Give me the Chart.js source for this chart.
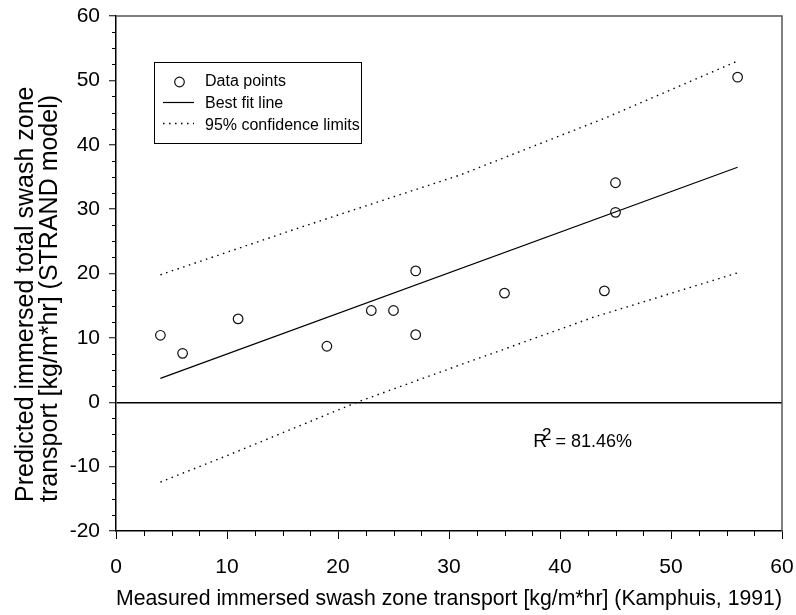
<!DOCTYPE html>
<html>
<head>
<meta charset="utf-8">
<script src="https://cdn.jsdelivr.net/npm/chart.js@4.4.1/dist/chart.umd.min.js"></script>
<style>
  html, body { margin: 0; padding: 0; background: #fff; }
  #chartContainer { width: 796px; height: 615px; }
</style>
</head>
<body>
<div id="chartContainer"><canvas id="chartSwash" width="796" height="615"></canvas></div>
<script>
/* measured vs predicted swash transport */
const measured = [4, 6, 11, 19, 23, 25, 27, 27, 35, 44, 45, 45, 56];
const predicted = [10.4, 7.6, 12.95, 8.7, 14.25, 14.25, 20.4, 10.5, 16.95, 17.3, 34.1, 29.5, 50.5];

const fitX = [4, 56];
const fitY = [3.7, 36.5];

const upperX = [4, 16.5, 31, 44, 56];
const upperY = [19.8, 27.1, 35.3, 44.1, 53.0];
const lowerX = [4, 10, 21.7, 31, 43, 56];
const lowerY = [-12.4, -8.3, 0, 5.8, 13.2, 20.1];

const xTicks = [0, 10, 20, 30, 40, 50, 60];
const yTicks = [-20, -10, 0, 10, 20, 30, 40, 50, 60];

const legendLabels = ['Data points', 'Best fit line', '95% confidence limits'];
const r2Text = '81.46%';

const FONT = '"Liberation Sans", Arial, sans-serif';
Chart.defaults.font.family = FONT;
Chart.defaults.color = '#000';

function pairs(xs, ys) {
  return xs.map(function (x, i) { return { x: x, y: ys[i] }; });
}
function isMajor(v, list) {
  return list.indexOf(v) !== -1;
}

// minor ticks, box edges, legend, R2 and the y title
const extras = {
  id: 'extras',
  afterDraw: function (chart) {
    const ctx = chart.ctx;
    const a = chart.chartArea;
    const xs = chart.scales.x;
    const ys = chart.scales.y;
    ctx.save();
    ctx.strokeStyle = '#000';
    ctx.lineWidth = 1;
    xs.ticks.forEach(function (t) {
      if (isMajor(t.value, xTicks)) return;
      const px = Math.round(xs.getPixelForValue(t.value)) + 0.5;
      ctx.beginPath();
      ctx.moveTo(px, a.bottom);
      ctx.lineTo(px, a.bottom + 5);
      ctx.stroke();
    });
    ys.ticks.forEach(function (t) {
      if (isMajor(t.value, yTicks)) return;
      const py = Math.round(ys.getPixelForValue(t.value)) + 0.5;
      ctx.beginPath();
      ctx.moveTo(a.left - 4, py);
      ctx.lineTo(a.left, py);
      ctx.stroke();
    });
    // top and right frame
    ctx.strokeStyle = '#555';
    ctx.lineWidth = 1.5;
    ctx.beginPath();
    ctx.moveTo(a.left, a.top);
    ctx.lineTo(a.right, a.top);
    ctx.lineTo(a.right, a.bottom);
    ctx.stroke();

    // legend box
    const ds = chart.data.datasets;
    ctx.strokeStyle = '#000';
    ctx.lineWidth = 1;
    ctx.strokeRect(154.5, 62.5, 207, 81);
    ctx.font = '16px ' + FONT;
    ctx.fillStyle = '#000';
    ctx.textBaseline = 'middle';
    ctx.textAlign = 'left';
    const rows = [82, 104, 126];
    legendLabels.forEach(function (lab, i) {
      ctx.fillText(lab, 205, rows[i]);
    });
    ctx.beginPath();
    ctx.lineWidth = ds[0].borderWidth;
    ctx.strokeStyle = ds[0].borderColor;
    ctx.arc(179.5, rows[0], ds[0].pointRadius, 0, Math.PI * 2);
    ctx.stroke();
    ctx.lineWidth = ds[1].borderWidth;
    ctx.strokeStyle = ds[1].borderColor;
    ctx.beginPath();
    ctx.moveTo(163, rows[1] - 1.5);
    ctx.lineTo(194, rows[1] - 1.5);
    ctx.stroke();
    ctx.setLineDash(ds[2].borderDash);
    ctx.lineWidth = ds[2].borderWidth;
    ctx.beginPath();
    ctx.moveTo(163, rows[2] - 2.5);
    ctx.lineTo(194, rows[2] - 2.5);
    ctx.stroke();
    ctx.setLineDash([]);

    // R^2 note
    const rx = xs.getPixelForValue(37.6);
    const ry = ys.getPixelForValue(-6.95);
    ctx.textBaseline = 'alphabetic';
    ctx.font = '19px ' + FONT;
    ctx.fillText('R', rx, ry);
    let w = ctx.measureText('R').width;
    ctx.font = '17px ' + FONT;
    ctx.fillText('2', rx + w - 5, ry - 6.5);
    w += ctx.measureText('2').width - 2;
    ctx.font = '18px ' + FONT;
    ctx.fillText('= ' + r2Text, rx + w + 1, ry);

    // y title, two lines starting at the same end
    ctx.font = '25px ' + FONT;
    ctx.translate(0, 502);
    ctx.rotate(-Math.PI / 2);
    ctx.fillText('Predicted immersed total swash zone', 0, 33);
    ctx.fillText('transport [kg/m*hr] (STRAND model)', 0, 57);
    ctx.restore();
  },
};

const chart_ctx = document.getElementById('chartSwash');
const chart = new Chart(chart_ctx, {
  type: 'scatter',
  data: {
    datasets: [
      {
        label: legendLabels[0],
        data: pairs(measured, predicted),
        showLine: false,
        pointRadius: 4.8,
        pointHoverRadius: 4.8,
        borderWidth: 1.2,
        borderColor: '#111',
        backgroundColor: 'rgba(0,0,0,0)',
      },
      {
        label: legendLabels[1],
        data: pairs(fitX, fitY),
        showLine: true,
        pointRadius: 0,
        borderWidth: 1.2,
        borderColor: '#000',
      },
      {
        label: legendLabels[2],
        data: pairs(upperX, upperY),
        showLine: true,
        pointRadius: 0,
        borderWidth: 1.4,
        borderColor: '#000',
        borderDash: [1.5, 4.5],
        tension: 0,
      },
      {
        label: legendLabels[2],
        data: pairs(lowerX, lowerY),
        showLine: true,
        pointRadius: 0,
        borderWidth: 1.4,
        borderColor: '#000',
        borderDash: [1.5, 4.5],
        tension: 0,
      },
    ],
  },
  options: {
    responsive: false,
    animation: false,
    devicePixelRatio: 1,
    layout: {
      padding: { top: 16, right: 14, left: 0, bottom: 0 },
    },
    plugins: {
      legend: { display: false },
      tooltip: { enabled: false },
    },
    events: [],
    scales: {
      x: {
        type: 'linear',
        min: 0,
        max: 60,
        afterFit: function (s) {
          s.height = 84;
          s.paddingLeft = 0;
          s.paddingRight = 0;
        },
        ticks: {
          stepSize: 2.5,
          autoSkip: false,
          maxRotation: 0,
          padding: 16,
          font: { size: 21 },
          color: '#000',
          callback: function (v) { return isMajor(v, xTicks) ? String(v) : ''; },
        },
        grid: {
          drawOnChartArea: false,
          drawTicks: true,
          tickLength: 8,
          tickColor: function (c) { return c.tick && isMajor(c.tick.value, xTicks) ? '#000' : 'rgba(0,0,0,0)'; },
        },
        border: { display: true, color: '#000', width: 1.5 },
        title: {
          display: true,
          text: 'Measured immersed swash zone transport [kg/m*hr] (Kamphuis, 1991)',
          font: { size: 22 },
          color: '#000',
          padding: { top: 0, bottom: 3 },
        },
      },
      y: {
        type: 'linear',
        min: -20,
        max: 60,
        afterFit: function (s) {
          s.width = 116;
          s.paddingTop = 0;
          s.paddingBottom = 0;
        },
        ticks: {
          stepSize: 2.5,
          autoSkip: false,
          padding: 9,
          font: { size: 21 },
          color: '#000',
          callback: function (v) { return isMajor(v, yTicks) ? String(v) : ''; },
        },
        grid: {
          drawOnChartArea: true,
          drawTicks: true,
          tickLength: 7,
          lineWidth: 1.5,
          color: function (c) { return c.tick && c.tick.value === 0 ? '#000' : 'rgba(0,0,0,0)'; },
          tickColor: function (c) { return c.tick && isMajor(c.tick.value, yTicks) ? '#000' : 'rgba(0,0,0,0)'; },
          tickWidth: 1,
        },
        border: { display: true, color: '#000', width: 1.5 },
      },
    },
  },
  plugins: [extras],
});
</script>
</body>
</html>
